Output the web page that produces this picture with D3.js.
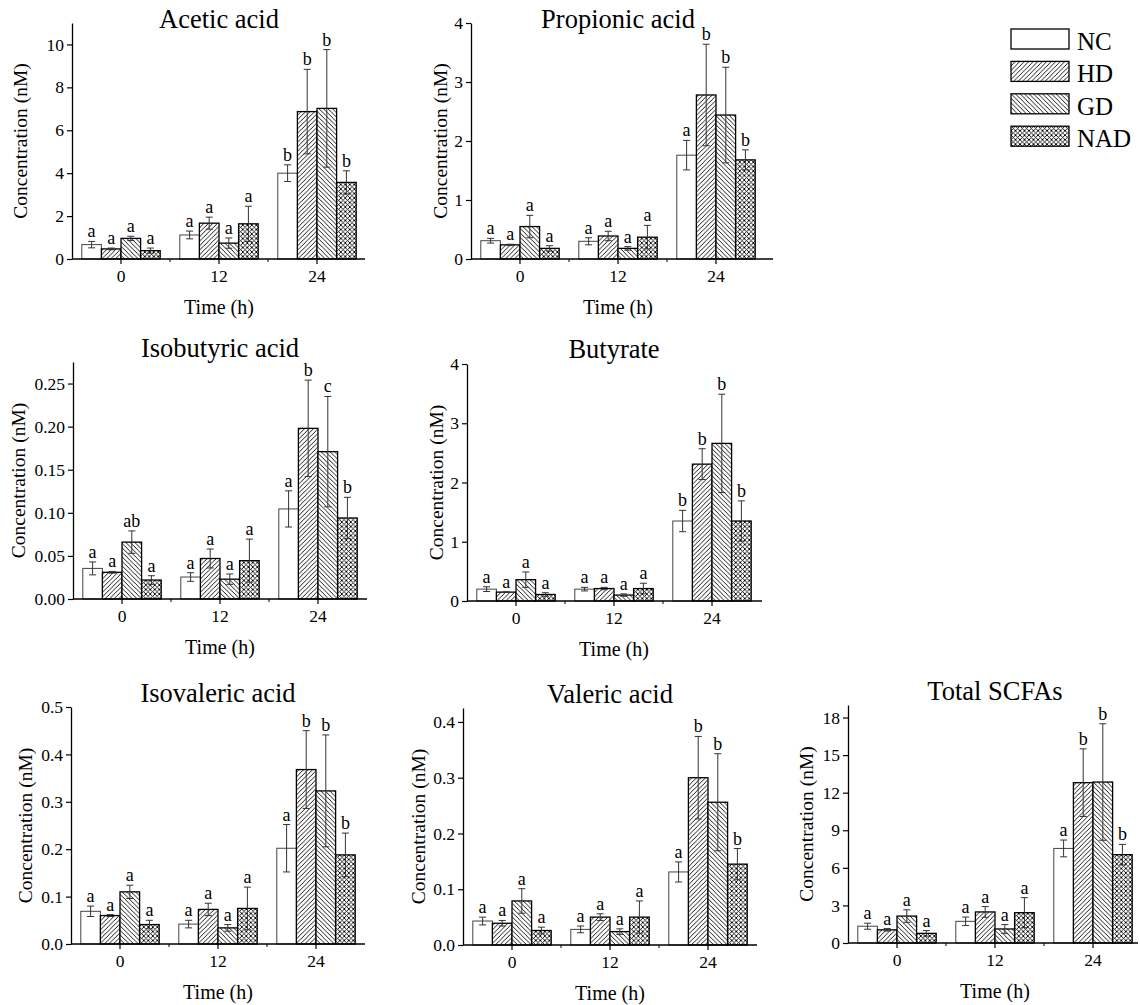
<!DOCTYPE html>
<html>
<head>
<meta charset="utf-8">
<script src="https://cdn.jsdelivr.net/npm/d3@7"></script>
<style>
  body { margin: 0; background: #fff; }
  svg { font-family: "Liberation Serif", "Times New Roman", serif; }
</style>
</head>
<body>
<script>
var timeLabels = ["0", "12", "24"];
var groupNames = ["NC", "HD", "GD", "NAD"];
var serif = '"Liberation Serif", "Times New Roman", serif';

// means and SD per time point (rows) for NC, HD, GD, NAD
var aceticMean = [[0.67, 0.47, 0.96, 0.39], [1.12, 1.67, 0.74, 1.64], [4.00, 6.87, 7.02, 3.57]];
var aceticErr  = [[0.15, 0.04, 0.10, 0.12], [0.18, 0.28, 0.24, 0.82], [0.39, 1.97, 2.74, 0.54]];
var aceticLetters = [["a","a","a","a"], ["a","a","a","a"], ["b","b","b","b"]];

var propMean = [[0.31, 0.24, 0.55, 0.18], [0.30, 0.39, 0.18, 0.37], [1.76, 2.78, 2.44, 1.68]];
var propErr  = [[0.04, 0.01, 0.19, 0.045], [0.06, 0.08, 0.03, 0.20], [0.25, 0.86, 0.81, 0.17]];
var propLetters = [["a","a","a","a"], ["a","a","a","a"], ["a","b","b","b"]];

var isobMean = [[0.0355, 0.031, 0.066, 0.022], [0.0255, 0.047, 0.023, 0.0445], [0.1045, 0.198, 0.171, 0.094]];
var isobErr  = [[0.0075, 0.001, 0.013, 0.005], [0.005, 0.011, 0.006, 0.025], [0.021, 0.056, 0.064, 0.024]];
var isobLetters = [["a","a","ab","a"], ["a","a","a","a"], ["a","b","c","b"]];

var butMean = [[0.20, 0.15, 0.36, 0.11], [0.20, 0.21, 0.10, 0.21], [1.35, 2.31, 2.66, 1.35]];
var butErr  = [[0.04, 0.005, 0.13, 0.03], [0.03, 0.02, 0.02, 0.09], [0.18, 0.26, 0.83, 0.34]];
var butLetters = [["a","a","a","a"], ["a","a","a","a"], ["b","b","b","b"]];

var isovMean = [[0.069, 0.060, 0.110, 0.041], [0.042, 0.073, 0.034, 0.075], [0.202, 0.368, 0.323, 0.188]];
var isovErr  = [[0.011, 0.002, 0.014, 0.009], [0.008, 0.013, 0.007, 0.045], [0.050, 0.082, 0.118, 0.046]];
var isovLetters = [["a","a","a","a"], ["a","a","a","a"], ["a","b","b","b"]];

var valMean = [[0.043, 0.039, 0.079, 0.026], [0.028, 0.050, 0.024, 0.050], [0.131, 0.300, 0.256, 0.145]];
var valErr  = [[0.007, 0.005, 0.022, 0.006], [0.006, 0.006, 0.005, 0.029], [0.018, 0.074, 0.087, 0.028]];
var valLetters = [["a","a","a","a"], ["a","a","a","a"], ["a","b","b","b"]];

var totalMean = [[1.34, 1.05, 2.15, 0.77], [1.73, 2.48, 1.12, 2.42], [7.55, 12.8, 12.85, 7.05]];
var totalErr  = [[0.24, 0.10, 0.50, 0.22], [0.34, 0.43, 0.35, 1.20], [0.67, 2.70, 4.65, 0.82]];
var totalLetters = [["a","a","a","a"], ["a","a","a","a"], ["a","b","b","b"]];

// panel layout (pixels)
var panels = [
  {title: "Acetic acid",     mean: aceticMean, err: aceticErr, letters: aceticLetters, x0: 72,  x1: 365,  y0: 259, yTop: 23,  ymax: 11,    ticks: [0,2,4,6,8,10], fmt: "d",   titleY: 28,  ylabX: 27},
  {title: "Propionic acid",  mean: propMean,   err: propErr,   letters: propLetters,   x0: 471, x1: 773,  y0: 259, yTop: 23,  ymax: 4,     ticks: [0,1,2,3,4], fmt: "d",      titleY: 28,  ylabX: 447},
  {title: "Isobutyric acid", mean: isobMean,   err: isobErr,   letters: isobLetters,   x0: 73,  x1: 367,  y0: 599, yTop: 362, ymax: 0.275, ticks: [0,0.05,0.10,0.15,0.20,0.25], fmt: ".2f", titleY: 357, ylabX: 25},
  {title: "Butyrate",        mean: butMean,    err: butErr,    letters: butLetters,    x0: 467, x1: 762,  y0: 601, yTop: 364, ymax: 4,     ticks: [0,1,2,3,4], fmt: "d",      titleY: 358, ylabX: 443},
  {title: "Isovaleric acid", mean: isovMean,   err: isovErr,   letters: isovLetters,   x0: 71,  x1: 365,  y0: 944, yTop: 707, ymax: 0.5,   ticks: [0,0.1,0.2,0.3,0.4,0.5], fmt: ".1f", titleY: 702, ylabX: 32},
  {title: "Valeric acid",    mean: valMean,    err: valErr,    letters: valLetters,    x0: 463, x1: 757,  y0: 945, yTop: 708, ymax: 0.425, ticks: [0,0.1,0.2,0.3,0.4], fmt: ".1f", titleY: 703, ylabX: 425},
  {title: "Total SCFAs",     mean: totalMean,  err: totalErr,  letters: totalLetters,  x0: 848, x1: 1138, y0: 943, yTop: 705, ymax: 19,    ticks: [0,3,6,9,12,15,18], fmt: "d", titleY: 700, ylabX: 813}
];

var svg = d3.select('body')
            .append('svg')
            .attr('width', 1140)
            .attr('height', 1005)
            .attr('font-family', serif);

// hatch patterns
var defs = svg.append('defs');
var fills = ["#fff", "url(#hd)", "url(#gd)", "url(#nad)"];
var hatch = [
  {id: "hd",  d: "M0,4.5 L4.5,0 M-1,1 L1,-1 M3.5,5.5 L5.5,3.5"},
  {id: "gd",  d: "M0,0 L4.5,4.5 M-1,3.5 L1,5.5 M3.5,-1 L5.5,1"},
  {id: "nad", d: "M0,4.5 L4.5,0 M-1,1 L1,-1 M3.5,5.5 L5.5,3.5 M0,0 L4.5,4.5 M-1,3.5 L1,5.5 M3.5,-1 L5.5,1"}
];
hatch.forEach(function(h) {
  var p = defs.append('pattern')
              .attr('id', h.id)
              .attr('patternUnits', 'userSpaceOnUse')
              .attr('width', 4.5)
              .attr('height', 4.5);
  p.append('rect').attr('width', 4.5).attr('height', 4.5).attr('fill', '#fff');
  p.append('path').attr('d', h.d).attr('stroke', '#000').attr('stroke-width', 0.9);
});

panels.forEach(function(pn) {
  var g = svg.append('g');

  var x = d3.scaleBand()
            .domain(timeLabels)
            .range([pn.x0, pn.x0 + 294])
            .paddingInner(0.2)
            .paddingOuter(0.1);
  var xs = d3.scaleBand()
             .domain(groupNames)
             .range([0, x.bandwidth()]);
  var y = d3.scaleLinear()
            .domain([0, pn.ymax])
            .range([pn.y0, pn.yTop]);

  // bars
  pn.mean.forEach(function(row, ti) {
    var gg = g.append('g')
              .attr('transform', 'translate(' + x(timeLabels[ti]) + ',0)');

    gg.selectAll('rect')
      .data(row)
      .enter()
      .append('rect')
      .attr('x', function(d, i) { return xs(groupNames[i]); })
      .attr('y', function(d) { return y(d); })
      .attr('width', xs.bandwidth())
      .attr('height', function(d) { return pn.y0 - y(d); })
      .attr('fill', function(d, i) { return fills[i]; })
      .attr('stroke', function(d, i) { return i == 0 ? '#444' : '#000'; })
      .attr('stroke-width', function(d, i) { return i == 0 ? 1 : 1.3; });

    // error bars
    var eb = gg.selectAll('g.err')
               .data(row)
               .enter()
               .append('g')
               .attr('class', 'err')
               .attr('stroke', '#333')
               .attr('stroke-width', 1);
    var cx = function(d, i) { return xs(groupNames[i]) + xs.bandwidth() / 2; };
    eb.append('line')
      .attr('x1', cx).attr('x2', cx)
      .attr('y1', function(d, i) { return y(d - pn.err[ti][i]); })
      .attr('y2', function(d, i) { return y(d + pn.err[ti][i]); });
    eb.append('line')
      .attr('x1', function(d, i) { return cx(d, i) - 3.5; })
      .attr('x2', function(d, i) { return cx(d, i) + 3.5; })
      .attr('y1', function(d, i) { return y(d + pn.err[ti][i]); })
      .attr('y2', function(d, i) { return y(d + pn.err[ti][i]); });
    eb.append('line')
      .attr('x1', function(d, i) { return cx(d, i) - 3.5; })
      .attr('x2', function(d, i) { return cx(d, i) + 3.5; })
      .attr('y1', function(d, i) { return y(d - pn.err[ti][i]); })
      .attr('y2', function(d, i) { return y(d - pn.err[ti][i]); });

    // significance letters
    gg.selectAll('text.sig')
      .data(row)
      .enter()
      .append('text')
      .attr('class', 'sig')
      .attr('x', cx)
      .attr('y', function(d, i) { return y(d + pn.err[ti][i]) - 4; })
      .attr('text-anchor', 'middle')
      .attr('font-size', 18)
      .text(function(d, i) { return pn.letters[ti][i]; });
  });

  // y axis
  var yAxis = d3.axisLeft(y)
                .tickValues(pn.ticks)
                .tickFormat(d3.format(pn.fmt))
                .tickSize(5)
                .tickSizeOuter(0)
                .tickPadding(3);
  var ya = g.append('g')
            .attr('transform', 'translate(' + pn.x0 + ',0)')
            .call(yAxis)
            .attr('font-family', serif)
            .attr('font-size', 17.5);
  ya.selectAll('text').attr('fill', '#000');
  ya.selectAll('line').attr('stroke', '#000').attr('stroke-width', 1.2);
  ya.select('.domain').attr('stroke', '#000').attr('stroke-width', 1.3);

  // x axis
  var xAxis = d3.axisBottom(x)
                .tickSize(5)
                .tickSizeOuter(0)
                .tickPadding(6);
  var xa = g.append('g')
            .attr('transform', 'translate(0,' + pn.y0 + ')')
            .call(xAxis)
            .attr('font-family', serif)
            .attr('font-size', 17.5);
  xa.select('.domain').remove();
  xa.selectAll('text').attr('fill', '#000');
  xa.selectAll('line').attr('stroke', '#000').attr('stroke-width', 1.2);
  xa.append('line')
    .attr('x1', pn.x0).attr('x2', pn.x1)
    .attr('y1', 0).attr('y2', 0)
    .attr('stroke', '#000').attr('stroke-width', 1.3);
  // minor ticks between groups
  var centers = timeLabels.map(function(t) { return x(t) + x.bandwidth() / 2; });
  xa.selectAll('line.minor')
    .data(d3.pairs(centers))
    .enter()
    .append('line')
    .attr('class', 'minor')
    .attr('x1', function(d) { return (d[0] + d[1]) / 2; })
    .attr('x2', function(d) { return (d[0] + d[1]) / 2; })
    .attr('y1', 0).attr('y2', 3)
    .attr('stroke', '#000').attr('stroke-width', 1);

  // labels
  g.append('text')
   .attr('x', centers[1])
   .attr('y', pn.titleY)
   .attr('text-anchor', 'middle')
   .attr('font-size', 26.5)
   .text(pn.title);
  g.append('text')
   .attr('x', centers[1])
   .attr('y', pn.y0 + 55)
   .attr('text-anchor', 'middle')
   .attr('font-size', 20)
   .text('Time (h)');
  g.append('text')
   .attr('transform', 'translate(' + pn.ylabX + ',' + (pn.y0 + pn.yTop) / 2 + ') rotate(-90)')
   .attr('text-anchor', 'middle')
   .attr('font-size', 19.5)
   .text('Concentration (nM)');
});

// legend
var leg = svg.append('g')
             .attr('transform', 'translate(1011,29)');
var li = leg.selectAll('g')
            .data(groupNames)
            .enter()
            .append('g')
            .attr('transform', function(d, i) { return 'translate(0,' + i * 32.4 + ')'; });
li.append('rect')
  .attr('width', 58)
  .attr('height', 20)
  .attr('fill', function(d, i) { return fills[i]; })
  .attr('stroke', '#000')
  .attr('stroke-width', 1.3);
li.append('text')
  .attr('x', 66)
  .attr('y', 21)
  .attr('font-size', 25)
  .text(function(d) { return d; });
</script>
</body>
</html>
